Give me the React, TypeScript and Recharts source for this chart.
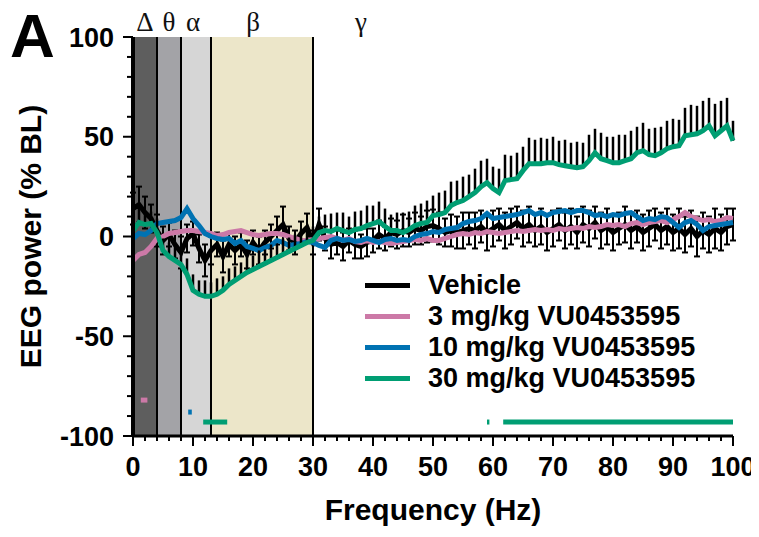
import {
  LineChart,
  Line,
  XAxis,
  YAxis,
  ReferenceArea,
  ReferenceLine,
  ErrorBar,
  Label,
} from "recharts";

const FONT = "'Liberation Sans', Arial, sans-serif";

// frequency bins (Hz)
const freqs = [
  0, 1, 2, 3, 4, 5, 6, 7, 8, 9,
  10, 11, 12, 13, 14, 15, 16, 17, 18, 19,
  20, 21, 22, 23, 24, 25, 26, 27, 28, 29,
  30, 31, 32, 33, 34, 35, 36, 37, 38, 39,
  40, 41, 42, 43, 44, 45, 46, 47, 48, 49,
  50, 51, 52, 53, 54, 55, 56, 57, 58, 59,
  60, 61, 62, 63, 64, 65, 66, 67, 68, 69,
  70, 71, 72, 73, 74, 75, 76, 77, 78, 79,
  80, 81, 82, 83, 84, 85, 86, 87, 88, 89,
  90, 91, 92, 93, 94, 95, 96, 97, 98, 99,
  100,
];

const vehicle = [
  14, 16, 12, 9, 3, -2, 1, -4, -8, -1,
  1.5, -6, -12, -7, -4, -10, -4, -7, -4, -9,
  -3, -7, -3, 0, 3, 6, -1, -3, 1.5, 4.5,
  -3, 6, -1, -4, -3, -5, -2, -4, -5, -3,
  -2, 1, -1, 2, 1, 3, 2, 4, 3, 5,
  5.5, 4, 2, 3, 2, 3, 4, 3, 5, 2,
  4, 6, 3, 5, 7, 4, 6, 3, 5, 2,
  4, 6, 3, 5, 2, 6, 4, 7, 3, 5,
  2, 4, 6, 3, 5, 2, 4, 6, 3, 5,
  2, 4, 1, 4, 0, 3, 1, 4, 2, 5,
  6,
];

const vehicleErr = [
  8, 9, 8, 7, 8, 7, 6, 7, 8, 7,
  6, 7, 8, 7, 6, 8, 6, 7, 6, 7,
  6, 7, 6, 6, 7, 9, 6, 6, 6, 7,
  6, 8, 6, 7, 6, 7, 6, 7, 6, 7,
  6, 7, 6, 7, 7, 8, 7, 8, 7, 8,
  8, 8, 7, 8, 8, 9, 8, 9, 8, 9,
  9, 8, 9, 9, 8, 9, 9, 8, 9, 9,
  9, 8, 9, 9, 8, 9, 9, 8, 9, 9,
  9, 8, 9, 9, 8, 9, 9, 8, 9, 9,
  9, 10, 9, 9, 10, 9, 9, 10, 9, 9,
  8,
];

const dose3 = [
  -12, -9, -8, -5, -1, 0, 1.5, 2, 2.5, 3,
  3, 2.5, 2, 1.5, 0.5, 1, 2, 2.5, 3, 2,
  1, 0.5, 1, 1.5, 1.5, 1, 0, -1, -2, -2,
  -1.5, -1, -0.5, 0, -1, -2, -1, -2.5, -3, -2,
  -3, -2.5, -3, -3.5, -3, -2.5, -2, -1.5, -2, -1,
  -2, -2, -1, 0, 1, 1.5, 1, 2, 1.5, 2.5,
  2, 1.5, 2, 2.5, 3, 2.5, 3, 3.5, 3, 3.5,
  3, 4, 3.5, 4, 4.5, 4, 5, 4.5, 5, 6,
  5.5, 6, 5, 6.5, 7, 6, 7, 7.5, 8, 7,
  8.5, 10, 12, 10, 9, 8, 8.5, 7.5, 8, 9.5,
  9,
];

const dose10 = [
  -1, 1.5, 1, 3, 6.5, 7, 7.5, 8, 9.5, 14,
  9, 5.5, 1.5, 0, -1, -1.5, -1, -3.5, -2, -5,
  -6, -7, -5.5, -4.5, -2, -3, -4.5, -4, -3.5, -2.5,
  -3, -4.5, -5.5, -2, -1, -2, -1.5, -2.5, -2, -1,
  -2, -3, -1.5, -1, -2, -1.5, -2, 0, 1, 1.5,
  2.5, 2, 3.5, 4, 4.5, 6.5, 7.5, 8, 9, 11.5,
  9, 9.5, 10, 10.5, 11, 12, 13, 11, 12, 10.5,
  12, 12.5, 13, 12, 13, 13, 12, 10.5, 11, 10,
  11, 10.5, 11.5, 12, 10, 8, 9, 8.5, 10, 9.5,
  7, 4.5, 7, 8, 6, 3, 5, 5.5, 6, 6.5,
  7,
];

const dose30 = [
  3, 7, 6, 6.5, 2, -7, -10, -12, -14, -19,
  -27, -29, -30, -30, -29, -27, -24, -22, -20, -18,
  -16.5, -15, -13.5, -12, -10.5, -9, -7.5, -6, -4.5, -3,
  -2, 2, 3, 2.5, 4, 3, 2, 3.5, 4, 5.5,
  6.5, 7.5, 5, 3, 3, 2, 3.5, 5.5, 6.5, 7,
  10.5, 11, 12, 15.5, 17, 18, 20, 22, 25, 27,
  24, 22, 28, 28.5, 29, 33, 36.5, 36.5, 36.5, 37,
  37, 36, 35.5, 35, 34.5, 35, 38, 42, 39, 38,
  37, 37, 38, 39, 42, 43, 41, 40.5, 42, 44,
  45, 45.5, 50.5, 51, 51.5, 53, 55.5, 50.5, 53, 55.5,
  48,
];

// upward-only SEM for the 30 mg/kg group
const dose30Err = [
  6, 7, 6, 6, 7, 6, 7, 8, 7, 8,
  8, 7, 8, 7, 8, 7, 8, 7, 7, 8,
  7, 8, 7, 8, 7, 8, 7, 7, 8, 7,
  7, 8, 8, 9, 8, 9, 8, 9, 9, 10,
  9, 10, 9, 8, 9, 10, 9, 10, 10, 11,
  10, 11, 11, 12, 11, 12, 11, 12, 13, 12,
  11, 12, 13, 12, 13, 12, 13, 12, 13, 12,
  13, 12, 13, 12, 13, 12, 13, 12, 13, 12,
  13, 14, 13, 14, 13, 14, 13, 14, 13, 14,
  14, 13, 14, 15, 14, 15, 14, 16, 15, 14,
  10,
];

const xTicks = [
  0, 2, 4, 6, 8, 10, 12, 14, 16, 18, 20, 22, 24, 26, 28, 30, 32, 34, 36, 38,
  40, 42, 44, 46, 48, 50, 52, 54, 56, 58, 60, 62, 64, 66, 68, 70, 72, 74, 76,
  78, 80, 82, 84, 86, 88, 90, 92, 94, 96, 98, 100,
];
const yTicks = [
  -100, -90, -80, -70, -60, -50, -40, -30, -20, -10, 0, 10, 20, 30, 40, 50,
  60, 70, 80, 90, 100,
];

// EEG frequency bands
const bands = [
  { from: 0, to: 4, fill: "#5e5e5e" },
  { from: 4, to: 8, fill: "#a3a3a7" },
  { from: 8, to: 13, fill: "#d6d6d6" },
  { from: 13, to: 30, fill: "#ece6c9" },
];
const bandEdges = [4, 8, 13, 30];
const bandLabels = [
  { text: "Δ", at: 2 },
  { text: "θ", at: 6 },
  { text: "α", at: 10 },
  { text: "β", at: 20 },
  { text: "γ", at: 38 },
];

// significance markers near the bottom
const sigMarks = [
  { from: 1.3, to: 2.4, y: -82, color: "#CC79A7" },
  { from: 9.2, to: 9.8, y: -88, color: "#0072B2" },
  { from: 11.7, to: 15.7, y: -93, color: "#009E73" },
  { from: 59, to: 59.4, y: -93, color: "#009E73" },
  { from: 61.7, to: 100, y: -93, color: "#009E73" },
];

const seriesNames = ["Vehicle", "3 mg/kg VU0453595", "10 mg/kg VU0453595", "30 mg/kg VU0453595"];
const seriesColors = ["#000000", "#CC79A7", "#0072B2", "#009E73"];

const data = freqs.map((f, i) => ({
  f,
  veh: vehicle[i],
  vehErr: vehicleErr[i],
  d3: dose3[i],
  d10: dose10[i],
  d30: dose30[i],
  d30Err: [0, dose30Err[i]],
}));

const XTick = ({ x, y, payload }: any) => {
  const major = payload.value % 10 === 0;
  return (
    <g>
      <line x1={x} x2={x} y1={y} y2={y + (major ? 10 : 5)} stroke="#000" strokeWidth={2} />
      {major && (
        <text x={x} y={y + 40} textAnchor="middle" fontSize={27} fontWeight="bold" fontFamily={FONT} fill="#000">
          {payload.value}
        </text>
      )}
    </g>
  );
};

const YTick = ({ x, y, payload }: any) => {
  const major = payload.value % 50 === 0;
  return (
    <g>
      <line x1={x} x2={x - (major ? 10 : 6)} y1={y} y2={y} stroke="#000" strokeWidth={2} />
      {major && (
        <text x={x - 19} y={y} dy="0.36em" textAnchor="end" fontSize={27} fontWeight="bold" fontFamily={FONT} fill="#000">
          {payload.value}
        </text>
      )}
    </g>
  );
};

export default function App() {
  return (
    <div style={{ position: "relative", width: 751, height: 529 }}>
      <div
        style={{
          position: "absolute",
          left: 2,
          top: -3,
          fontFamily: FONT,
          fontWeight: "bold",
          fontSize: 62,
          lineHeight: "62px",
        }}
      >
        A
      </div>
      <LineChart width={751} height={529} data={data} margin={{ top: 29, right: 26, bottom: 11, left: 0 }}>
        {bands.map((b) => (
          <ReferenceArea key={b.from} x1={b.from} x2={b.to} y1={-100} y2={100} fill={b.fill} fillOpacity={1} stroke="none" />
        ))}
        {bandEdges.map((e) => (
          <ReferenceLine key={e} x={e} stroke="#000" strokeWidth={2} />
        ))}
        {bandLabels.map((b) => (
          <ReferenceLine
            key={b.text}
            x={b.at}
            stroke="none"
            label={{ value: b.text, position: "top", offset: 6, fontSize: 27, fill: "#111", fontFamily: "'Liberation Serif', 'Times New Roman', serif" }}
          />
        ))}
        {sigMarks.map((s, i) => (
          <ReferenceLine
            key={i}
            segment={[{ x: s.from, y: s.y }, { x: s.to, y: s.y }]}
            stroke={s.color}
            strokeWidth={5}
          />
        ))}
        <XAxis
          dataKey="f"
          type="number"
          domain={[0, 100]}
          ticks={xTicks}
          interval={0}
          height={90}
          tickSize={0}
          tickMargin={0}
          tickLine={false}
          tick={<XTick />}
          axisLine={{ stroke: "#000", strokeWidth: 3 }}
        >
          <Label
            value="Frequency (Hz)"
            position="insideBottom"
            offset={6}
            style={{ fontSize: 30, fontWeight: "bold", fontFamily: FONT, fill: "#000" }}
          />
        </XAxis>
        <YAxis
          type="number"
          domain={[-100, 100]}
          allowDataOverflow
          ticks={yTicks}
          interval={0}
          width={125}
          tickSize={0}
          tickMargin={0}
          tickLine={false}
          tick={<YTick />}
          axisLine={{ stroke: "#000", strokeWidth: 4 }}
        >
          <Label
            content={({ viewBox }: any) => {
              const cx = 22;
              const cy = viewBox.y + viewBox.height / 2;
              return (
                <text
                  x={cx}
                  y={cy}
                  transform={`rotate(-90 ${cx} ${cy})`}
                  textAnchor="middle"
                  dy="0.36em"
                  fontSize={30}
                  fontWeight="bold"
                  fontFamily={FONT}
                  fill="#000"
                >
                  EEG power (% BL)
                </text>
              );
            }}
          />
        </YAxis>
        <Line dataKey="veh" name={seriesNames[0]} stroke={seriesColors[0]} strokeWidth={5} dot={false} isAnimationActive={false}>
          <ErrorBar dataKey="vehErr" direction="y" width={3} stroke="#000" strokeWidth={2} isAnimationActive={false} />
        </Line>
        <Line dataKey="d3" name={seriesNames[1]} stroke={seriesColors[1]} strokeWidth={5} dot={false} isAnimationActive={false} />
        <Line dataKey="d10" name={seriesNames[2]} stroke={seriesColors[2]} strokeWidth={5} dot={false} isAnimationActive={false} />
        <Line dataKey="d30" name={seriesNames[3]} stroke={seriesColors[3]} strokeWidth={5} dot={false} isAnimationActive={false}>
          <ErrorBar dataKey="d30Err" direction="y" width={0} stroke="#000" strokeWidth={2.5} isAnimationActive={false} />
        </Line>
      </LineChart>
      <div
        style={{
          position: "absolute",
          left: 357,
          top: 262,
          fontFamily: FONT,
          fontWeight: "bold",
          fontSize: 27,
        }}
      >
        {seriesNames.map((name, i) => (
          <div key={name} style={{ display: "flex", alignItems: "center", height: 31 }}>
            <span style={{ display: "inline-block", width: 45, height: 5, background: seriesColors[i], marginRight: 18 }} />
            <span>{name}</span>
          </div>
        ))}
      </div>
    </div>
  );
}
